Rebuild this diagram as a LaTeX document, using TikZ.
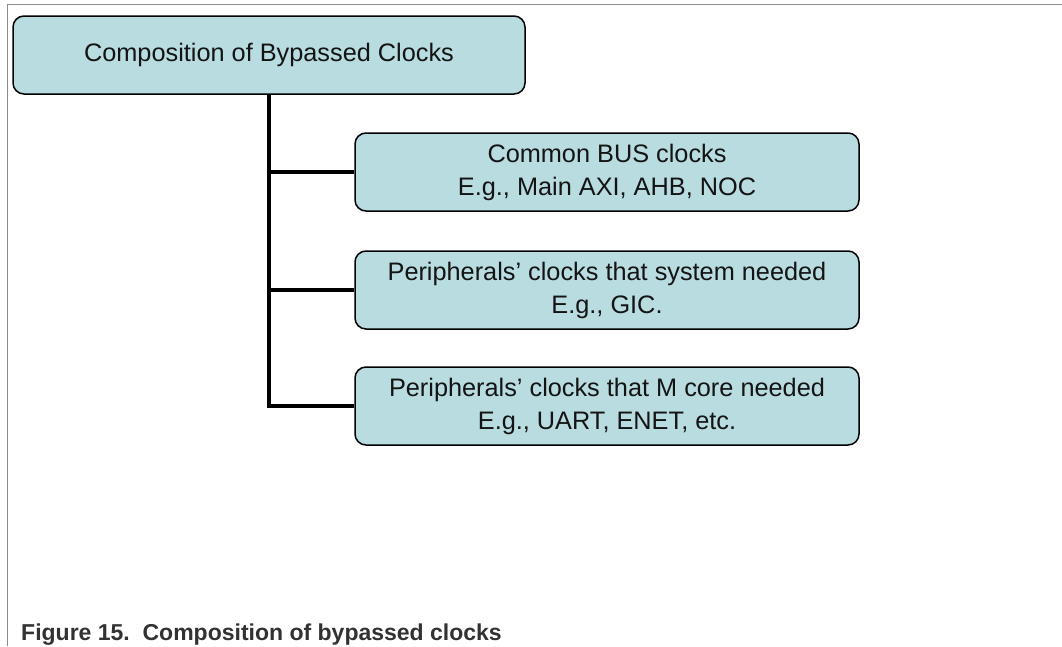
\documentclass[tikz,border=0pt]{standalone}
\usepackage{fontspec}
\setmainfont{Liberation Sans}
\begin{document}
\begin{tikzpicture}[x=1pt,y=1pt,
  boxstyle/.style={draw=black, line width=1.5pt, fill=boxfill, rounded corners=11pt,
    minimum height=78pt, inner sep=0pt, align=center, text=txt,
    font=\fontsize{25.3}{33}\selectfont},
  trunk/.style={line width=4pt, black},
  framestyle/.style={line width=1.6pt, framegray}]
\definecolor{boxfill}{RGB}{184,220,224}
\definecolor{txt}{RGB}{20,20,20}
\definecolor{framegray}{RGB}{140,140,140}
\definecolor{captxt}{RGB}{50,50,50}
\useasboundingbox (0,0) rectangle (1062,-646);
\coordinate (fa) at (7.5,-646);
\coordinate (fb) at (7.5,-4.5);
\coordinate (fc) at (1062,-4.5);
\draw[framestyle] (fa) -- (fb) -- (fc);
\node[boxstyle, minimum width=512pt] (top) at (269,-55) {Composition of Bypassed Clocks};
\node[boxstyle, minimum width=504pt] (c1) at (607,-172) {Common BUS clocks\\E.g., Main AXI, AHB, NOC};
\node[boxstyle, minimum width=504pt] (c2) at (607,-290) {Peripherals’ clocks that system needed\\E.g., GIC.};
\node[boxstyle, minimum width=504pt] (c3) at (607,-406) {Peripherals’ clocks that M core needed\\E.g., UART, ENET, etc.};
\draw[trunk] (top.south) |- (c3.west);
\draw[trunk] (top.south |- c1.west) -- (c1.west);
\draw[trunk] (top.south |- c2.west) -- (c2.west);
\node[anchor=base west, inner sep=0pt, text=captxt, font=\bfseries\fontsize{23}{27}\selectfont] (cap) at (21,-640) {Figure 15.\ \ Composition of bypassed clocks};
\end{tikzpicture}
\end{document}
